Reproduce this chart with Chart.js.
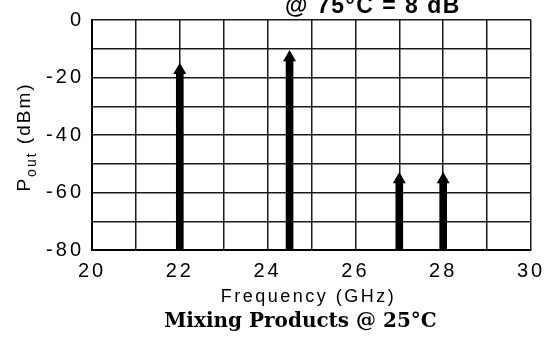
<!DOCTYPE html>
<html lang="en">
<head>
<meta charset="UTF-8">
<title>Mixing Products</title>
<script src="https://cdn.jsdelivr.net/npm/chart.js@4.4.0/dist/chart.umd.min.js"></script>
<style>
  html, body { margin: 0; padding: 0; background: #fff; }
  #wrap { width: 547px; height: 337px; position: relative; }
</style>
</head>
<body>
<div id="wrap"><canvas id="mix-chart"></canvas></div>
<script>
// spectral lines: frequency (GHz) and level (dBm) at arrowhead
var freqs = [22, 24.5, 27, 28];
var levels = [-17.5, -13, -55.5, -55.5];
var floorLevel = -80;

var xMin = 20, xMax = 30;
var yMin = -80, yMax = 0;

var xTitle = 'Frequency (GHz)';
var yTitle = ['P', 'out', ' (dBm)'];
var caption = 'Mixing Products @ 25\u00B0C';
var topNote = '@ 75\u00B0C = 8 dB';

var shafts = freqs.map(function(f, i) { return { x: f, y: [floorLevel, levels[i]] }; });
var heads = freqs.map(function(f, i) { return { x: f, y: levels[i] }; });

// wide letter spacing like the original typeface
var spacingPlugin = {
  id: 'spacing',
  beforeDraw: function(chart) {
    chart.ctx.letterSpacing = '3px';
  }
};

var textPlugin = {
  id: 'texts',
  afterDraw: function(chart) {
    var ctx = chart.ctx, a = chart.chartArea;
    var cx = (a.left + a.right) / 2;
    ctx.save();
    ctx.fillStyle = '#000';
    ctx.textBaseline = 'alphabetic';

    // x title
    ctx.textAlign = 'center';
    ctx.letterSpacing = '2.5px';
    ctx.font = '18px "Liberation Sans"';
    ctx.fillText(xTitle, cx - 3, a.bottom + 52);

    // caption
    ctx.letterSpacing = '0px';
    ctx.font = 'bold 20px "DejaVu Serif"';
    ctx.fillText(caption, cx - 11, a.bottom + 77);

    // note cut off at the top
    ctx.font = 'bold 23px "Liberation Sans"';
    ctx.letterSpacing = '1.5px';
    ctx.fillText(topNote, 373, a.top - 7);

    // y title with subscript
    ctx.letterSpacing = '2px';
    ctx.textAlign = 'left';
    var big = '19px "Liberation Sans"', small = '14px "Liberation Sans"';
    ctx.font = big;
    var w0 = ctx.measureText(yTitle[0]).width;
    var w2 = ctx.measureText(yTitle[2]).width;
    ctx.font = small;
    var w1 = ctx.measureText(yTitle[1]).width;
    var total = w0 + w1 + w2;
    ctx.translate(30, (a.top + a.bottom) / 2 + 2);
    ctx.rotate(-Math.PI / 2);
    var x = -total / 2;
    ctx.font = big;
    ctx.fillText(yTitle[0], x, 0);
    x += w0;
    ctx.font = small;
    ctx.fillText(yTitle[1], x, 6);
    x += w1;
    ctx.font = big;
    ctx.fillText(yTitle[2], x, 0);
    ctx.restore();
  }
};

var ctx = document.getElementById('mix-chart').getContext('2d');
var chart = new Chart(ctx, {
  data: {
    datasets: [{
      type: 'bar',
      data: shafts,
      backgroundColor: '#000',
      borderWidth: 0,
      barThickness: 7,
      grouped: false
    }, {
      type: 'scatter',
      data: heads,
      pointStyle: 'triangle',
      pointRadius: 7.5,
      pointHoverRadius: 7.5,
      backgroundColor: '#000',
      borderColor: '#000',
      borderWidth: 0
    }]
  },
  options: {
    responsive: true,
    maintainAspectRatio: false,
    animation: false,
    layout: { padding: { top: 14, right: 0, left: 0, bottom: 0 } },
    plugins: {
      legend: { display: false },
      tooltip: { enabled: false },
      title: { display: false }
    },
    scales: {
      x: {
        type: 'linear',
        offset: false,
        min: xMin,
        max: xMax,
        afterFit: function(scale) {
          scale.height = 87;
          scale.paddingRight = 16;
          scale.paddingLeft = 0;
        },
        border: { display: true, color: '#000', width: 2 },
        grid: { color: '#1a1a1a', lineWidth: 1.5, drawTicks: false, offset: false },
        ticks: {
          stepSize: 1,
          autoSkip: false,
          maxRotation: 0,
          padding: 9,
          color: '#000',
          font: { family: 'Liberation Sans', size: 20 },
          callback: function(v) { return v % 2 === 0 ? String(v) : ''; }
        }
      },
      y: {
        min: yMin,
        max: yMax,
        afterFit: function(scale) { scale.width = 92; },
        border: { display: true, color: '#000', width: 2 },
        grid: { color: '#1a1a1a', lineWidth: 1.5, drawTicks: false },
        ticks: {
          stepSize: 10,
          padding: 8,
          color: '#000',
          font: { family: 'Liberation Sans', size: 20 },
          callback: function(v) { return v % 20 === 0 ? String(v) : ''; }
        }
      }
    }
  },
  plugins: [spacingPlugin, textPlugin]
});
</script>
</body>
</html>
